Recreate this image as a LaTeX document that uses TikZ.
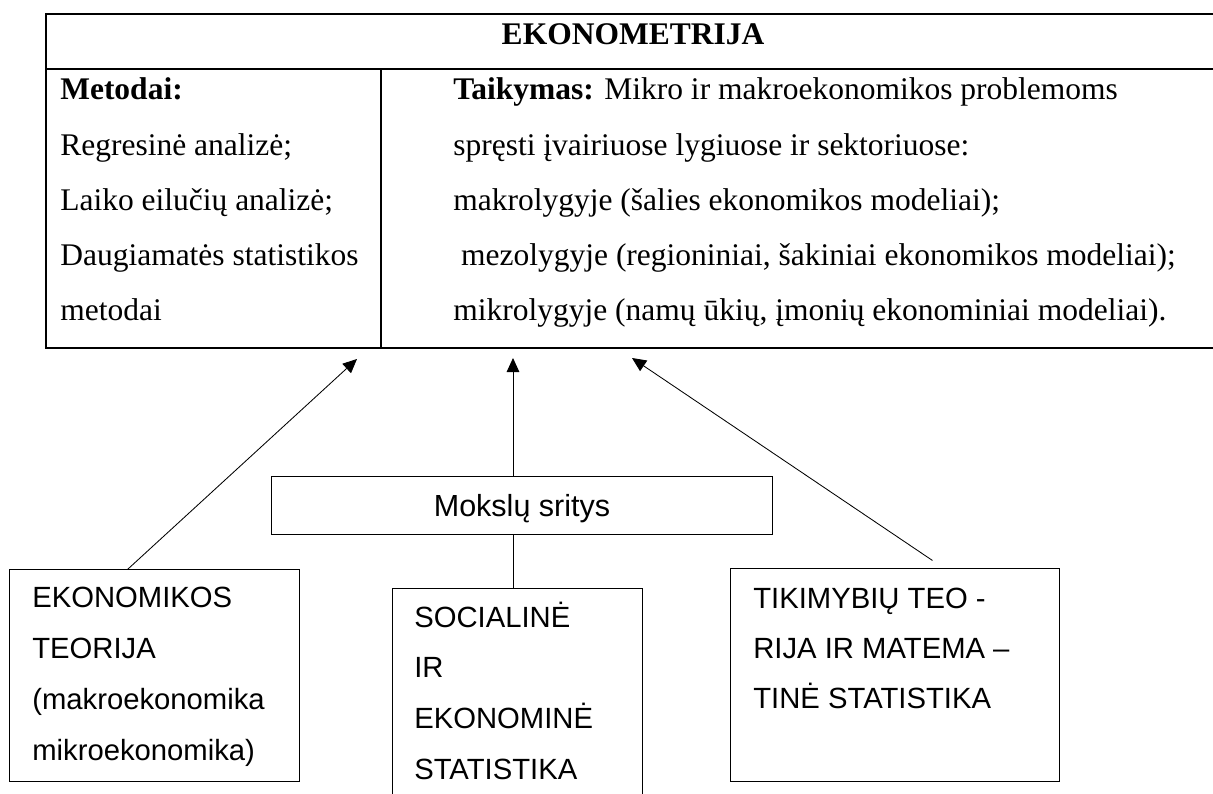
\documentclass[tikz,border=0pt]{standalone}
\usepackage{fontspec}
\setmainfont{Liberation Serif}
\newfontfamily\arialfont{Liberation Sans}
\usetikzlibrary{arrows.meta}
\tikzset{
  txt/.style={anchor=base west, inner sep=0pt, font=\fontsize{22.4}{26}\selectfont},
  sans/.style={anchor=base west, inner sep=0pt, font=\arialfont\fontsize{20.8}{24}\selectfont},
  box/.style={draw, line width=0.7pt, inner sep=0pt},
  arr/.style={-{Triangle[length=10pt,width=9pt]}, line width=0.6pt}
}
\begin{document}
\begin{tikzpicture}[x=0.025cm,y=-0.025cm]
        \useasboundingbox (0,0) rectangle (1213,794);
        % table
        \draw[line width=0.9pt] (1213,14) -- (46,14) -- (46,348) -- (1213,348);
        \draw[line width=0.9pt] (46,69) -- (1213,69);
        \draw[line width=0.9pt] (381,69) -- (381,348);
        \node[txt, anchor=base] (title) at (633,45) {\bfseries EKONOMETRIJA};
        \node[txt] (met0) at (60,100) {\bfseries Metodai:};
        \foreach \t [count=\i] in {Regresinė analizė;, Laiko eilučių analizė;, Daugiamatės statistikos, metodai}
        \node[txt] (met\i) at (60,100+55.25*\i) {\t};
        \node[txt] (taik0) at (453,100) {\textbf{Taikymas:} Mikro ir makroekonomikos problemoms};
        \foreach \t [count=\i] in {spręsti įvairiuose lygiuose ir sektoriuose:, {makrolygyje (šalies ekonomikos modeliai);}, {\ mezolygyje (regioniniai, šakiniai ekonomikos modeliai);}, {mikrolygyje (namų ūkių, įmonių ekonominiai modeliai).}}
        \node[txt] (taik\i) at (453,100+55.25*\i) {\t};
        % boxes
        \node[box, minimum width=12.5cm, minimum height=1.45cm, text depth=0pt, font=\arialfont\fontsize{21.7}{24}\selectfont] (mokslai) at (522,505) {Mokslų sritys};
        \node[box, minimum width=7.225cm, minimum height=5.275cm] (ekon) at (154.5,675.5) {};
        \node[box, minimum width=6.225cm, minimum height=6.025cm] (soc) at (517.5,709.5) {};
        \node[box, minimum width=8.2cm, minimum height=5.3cm] (prob) at (895,675) {};
        \foreach \t [count=\i from 0] in {EKONOMIKOS, TEORIJA, {(makroekonomika}, {mikroekonomika)}}
        \node[sans] (ekon\i) at (32,607+51*\i) {\t};
        \foreach \t [count=\i from 0] in {SOCIALINĖ, IR, EKONOMINĖ, STATISTIKA}
        \node[sans] (soc\i) at (414,627+50.7*\i) {\t};
        \foreach \t [count=\i from 0] in {TIKIMYBIŲ TEO -, RIJA IR MATEMA –, TINĖ STATISTIKA}
        \node[sans] (prob\i) at (753,608+50*\i) {\t};
        % arrows
        \coordinate (tipL) at (357,359);
        \coordinate (tipM) at (513,358);
        \coordinate (tipR) at (632,358);
        \draw[arr] (ekon.north west) ++(118,0) -- (tipL);
        \draw[arr] (mokslai.north -| tipM) -- (tipM);
        \draw[line width=0.6pt] (mokslai.south -| tipM) -- (soc.north -| tipM);
        \draw[arr] (prob.north west) ++(202,-8) -- (tipR);
\end{tikzpicture}
\end{document}
